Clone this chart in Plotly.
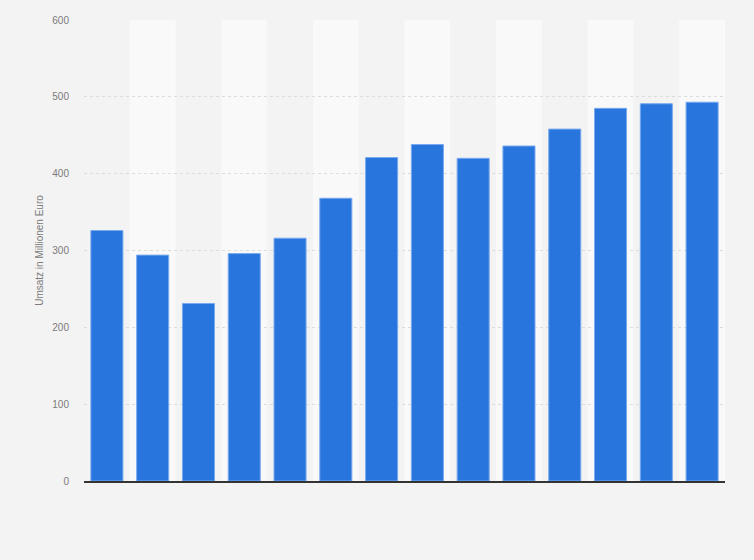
import plotly.graph_objects as go

categories = ["2008", "2009", "2010", "2011", "2012", "2013", "2014",
              "2015", "2016", "2017", "2018", "2019", "2020", "2021"]
values = [326, 294, 231, 296, 316, 368, 421, 438, 420, 436, 458, 485, 491, 493]
y_ticks = [0, 100, 200, 300, 400, 500, 600]
y_title = "Umsatz in Millionen Euro"

fig = go.Figure()
fig.add_trace(go.Bar(
    x=list(range(len(categories))),
    y=values,
    marker=dict(color="#2876dd", line=dict(color="#79a9ee", width=1)),
    hovertext=categories,
))

shapes = []
for i in range(len(categories)):
    if i % 2 == 1:
        shapes.append(dict(type="rect", xref="x", yref="paper",
                           x0=i - 0.5, x1=i + 0.5, y0=0, y1=1,
                           fillcolor="#f9f9f9", line=dict(width=0), layer="below"))

fig.update_layout(
    width=754, height=560,
    margin=dict(l=84, r=29, t=20, b=79),
    paper_bgcolor="#f3f3f3", plot_bgcolor="#f3f3f3",
    font=dict(family="Liberation Sans, Arial, sans-serif", size=10, color="#7a7a7a"),
    bargap=0.3,
    showlegend=False,
    shapes=shapes,
    xaxis=dict(range=[-0.5, len(categories) - 0.5], showticklabels=False,
               showgrid=False, zeroline=False, showline=True,
               linecolor="#333333", linewidth=1.5, ticks=""),
    yaxis=dict(range=[0, 600], tickvals=y_ticks, showgrid=True,
               gridcolor="#dcdcdc", griddash="dot", gridwidth=1,
               zeroline=False, showline=False, ticks="",
               ticklabelstandoff=14,
               title=dict(text=y_title, font=dict(size=10, color="#7a7a7a"), standoff=6)),
)

fig.write_html("out.html",
               config={"displayModeBar": False},
               post_script="document.body.style.margin='0';document.body.style.padding='0';")
